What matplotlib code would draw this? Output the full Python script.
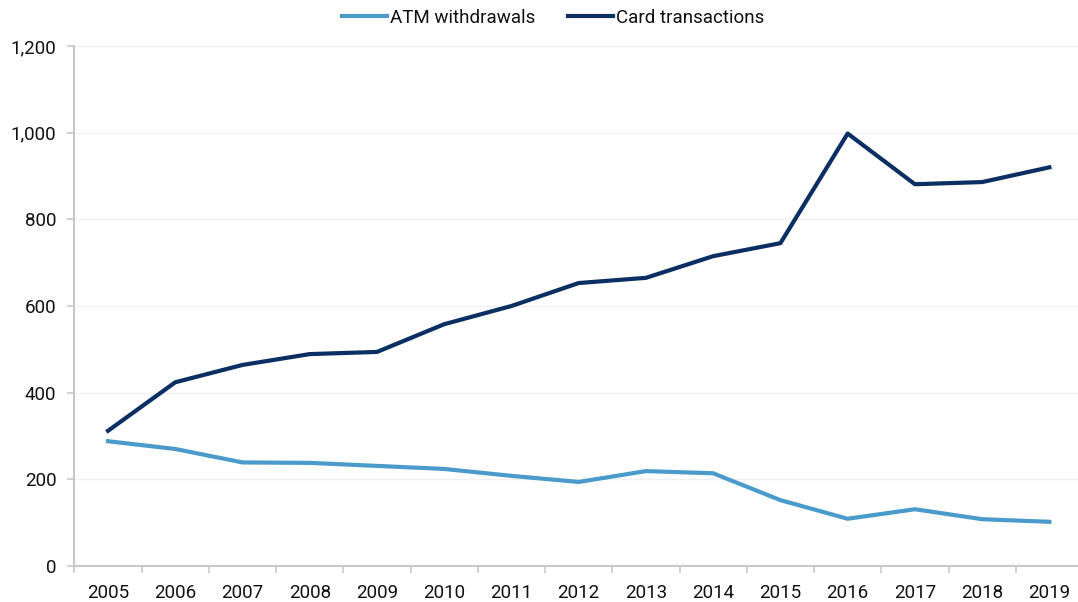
import matplotlib
matplotlib.use('Agg')
import matplotlib.pyplot as plt
from matplotlib.ticker import FuncFormatter, FixedLocator

plt.rcParams['font.family'] = ['Roboto', 'DejaVu Sans']

# data
years = ['2005', '2006', '2007', '2008', '2009', '2010', '2011', '2012',
         '2013', '2014', '2015', '2016', '2017', '2018', '2019']
atm_withdrawals = [288, 270, 239, 238, 231, 224, 208, 194, 219, 214, 152, 109, 131, 108, 102]
card_transactions = [312, 424, 464, 489, 494, 558, 600, 653, 665, 715, 745, 998, 881, 886, 920]

light_blue = '#4a9bcb'
navy = '#0b2e63'
grid_color = '#f0f0f0'
axis_color = '#c8c8c8'
fs = 13.5

fig = plt.figure(figsize=(10.78, 6.02), dpi=100)
# axes slightly wider than the figure, like the cropped original
ax = fig.add_axes([74.4 / 1078, 36 / 602, (1083 - 74.4) / 1078, 520 / 602])

x = list(range(len(years)))
ax.plot(x, atm_withdrawals, color=light_blue, linewidth=3, label='ATM withdrawals',
        solid_joinstyle='round')
ax.plot(x, card_transactions, color=navy, linewidth=3, label='Card transactions',
        solid_joinstyle='round')

ax.set_xlim(-0.5, len(years) - 0.5)
ax.set_ylim(0, 1200)
ax.set_yticks(range(0, 1201, 200))
ax.yaxis.set_major_formatter(FuncFormatter(lambda v, p: f'{int(v):,}'))

ax.set_xticks(x)
ax.set_xticklabels(years)
ax.xaxis.set_minor_locator(FixedLocator([i + 0.5 for i in range(-1, len(years))]))

ax.tick_params(axis='x', which='major', length=0, pad=13, labelsize=fs, labelcolor='#111111')
ax.tick_params(axis='x', which='minor', length=5, width=1.2, color=axis_color)
ax.tick_params(axis='y', length=5, width=1.2, color=axis_color, pad=8, labelsize=fs,
               labelcolor='#111111')

ax.grid(axis='y', color=grid_color, linewidth=1)
ax.set_axisbelow(True)
for side in ['top', 'right']:
    ax.spines[side].set_visible(False)
for side in ['left', 'bottom']:
    ax.spines[side].set_color(axis_color)
    ax.spines[side].set_linewidth(1.5)

leg = fig.legend(loc='center', bbox_to_anchor=(553 / 1078, 1 - 18 / 602), ncol=2, frameon=False,
                 fontsize=fs, handlelength=2.4, handletextpad=0.15, columnspacing=1.75)
for t in leg.get_texts():
    t.set_color('#111111')

fig.savefig('out.png', dpi=100)
